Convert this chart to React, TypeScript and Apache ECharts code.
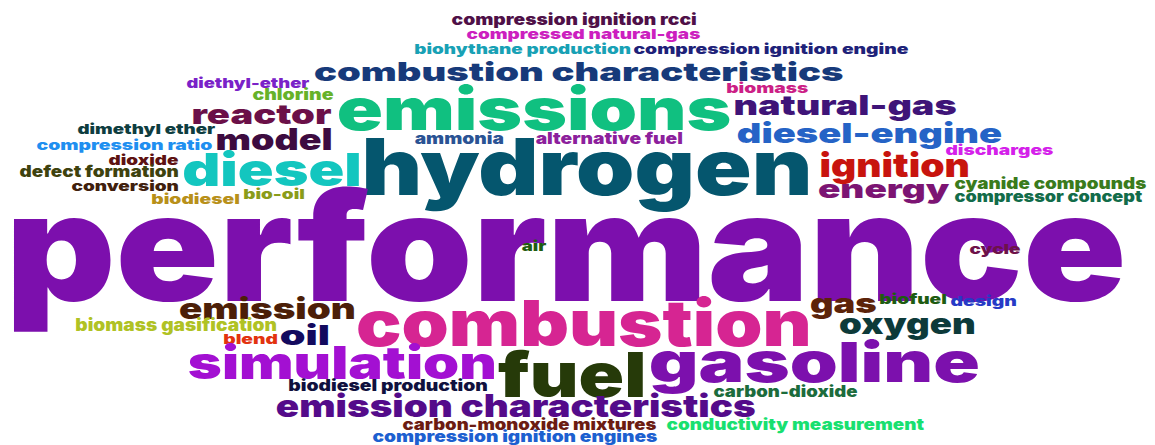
import React, { useEffect, useRef } from "react";
import * as echarts from "echarts";

// Word cloud terms (in drawing order)
const words: string[] = [
  "compression ignition rcci",
  "compressed natural-gas",
  "biohythane production",
  "compression ignition engine",
  "combustion characteristics",
  "diethyl-ether",
  "chlorine",
  "biomass",
  "emissions",
  "natural-gas",
  "reactor",
  "dimethyl ether",
  "model",
  "ammonia",
  "alternative fuel",
  "diesel-engine",
  "compression ratio",
  "hydrogen",
  "diesel",
  "dioxide",
  "defect formation",
  "discharges",
  "ignition",
  "conversion",
  "energy",
  "cyanide compounds",
  "compressor concept",
  "biodiesel",
  "bio-oil",
  "performance",
  "air",
  "cycle",
  "emission",
  "combustion",
  "gas",
  "biofuel",
  "design",
  "oxygen",
  "biomass gasification",
  "oil",
  "blend",
  "simulation",
  "fuel",
  "gasoline",
  "biodiesel production",
  "carbon-dioxide",
  "emission characteristics",
  "carbon-monoxide mixtures",
  "conductivity measurement",
  "compression ignition engines",
];

const wordColors: string[] = [
  "#4f1048", "#cc1fbf", "#18a1b5", "#1e2279", "#173a7a",
  "#7a22c8", "#66b22a", "#cc1f86", "#10c080", "#3f1478",
  "#6b1048", "#0e3d40", "#3d0b40", "#2a5394", "#8c209c",
  "#2563c6", "#1f8ff0", "#05566e", "#13c6bf", "#5e1212",
  "#3e420e", "#d420ea", "#c8140e", "#40200d", "#7c1473",
  "#3a7b1c", "#126c4a", "#b8901a", "#8a9c1a", "#7c0fad",
  "#1f5c10", "#6d124a", "#4c1f08", "#d62592", "#5c2309",
  "#1e5c12", "#263ac6", "#0d3a3a", "#b0c224", "#130a5e",
  "#e2330f", "#a310d2", "#263a09", "#7c10ad", "#10113e",
  "#1c6c3c", "#540b8a", "#6c1c12", "#18e070", "#1c60d0",
];

// Layout of each word in the cloud: [left, right, x-height top, baseline]
const wordBoxes: [number, number, number, number][] = [
  [452, 696, 15, 24],
  [467, 700, 30, 38],
  [415, 630, 45, 53],
  [634, 908, 45, 53],
  [315, 843, 64, 79],
  [187, 309, 79, 87],
  [253, 333, 90, 99],
  [727, 808, 84, 92],
  [339, 730, 92, 126],
  [735, 956, 97, 113],
  [193, 331, 106, 122],
  [78, 215, 125, 133],
  [217, 331, 131, 148],
  [415, 503, 134, 143],
  [536, 682, 134, 143],
  [738, 1001, 125, 141],
  [37, 212, 141, 149],
  [365, 808, 145, 190],
  [184, 359, 157, 183],
  [109, 178, 156, 164],
  [20, 178, 167, 176],
  [946, 1053, 146, 154],
  [821, 968, 156, 175],
  [72, 178, 182, 190],
  [819, 949, 181, 196],
  [955, 1146, 179, 188],
  [955, 1142, 192, 201],
  [152, 239, 195, 203],
  [244, 304, 190, 198],
  [12, 1122, 204, 291],
  [522, 546, 242, 250],
  [970, 1020, 245, 253],
  [180, 354, 300, 317],
  [358, 808, 305, 342],
  [811, 876, 295, 311],
  [880, 946, 295, 303],
  [951, 1016, 297, 305],
  [840, 974, 315, 332],
  [76, 276, 320, 330],
  [281, 328, 327, 343],
  [224, 277, 335, 343],
  [189, 494, 350, 376],
  [498, 643, 357, 393],
  [651, 978, 346, 378],
  [289, 487, 381, 390],
  [714, 857, 387, 396],
  [277, 755, 397, 415],
  [403, 656, 420, 429],
  [667, 924, 420, 429],
  [373, 657, 432, 441],
];

const FONT_FAMILY = "Inter, 'Liberation Sans', sans-serif";
const FONT_WEIGHT = 900;
const XH_FACTOR = 0.95;
const W = 1155;
const H = 445;

export default function App() {
  const ref = useRef<HTMLDivElement>(null);

  useEffect(() => {
    document.body.style.margin = "0";
    const el = ref.current!;
    const chart = echarts.init(el, null, { renderer: "svg" });

    const ctx = document.createElement("canvas").getContext("2d")!;
    const REF = 100;
    ctx.font = `${FONT_WEIGHT} ${REF}px ${FONT_FAMILY}`;
    ctx.textAlign = "center";
    ctx.textBaseline = "middle";
    const mx = ctx.measureText("x");
    const xa = mx.actualBoundingBoxAscent;
    const xd = mx.actualBoundingBoxDescent;
    const xhRatio = (xa + xd) / REF;
    const metrics = words.map((w) => {
      const m = ctx.measureText(w);
      return { L: m.actualBoundingBoxLeft, R: m.actualBoundingBoxRight };
    });

    const data = words.map((w, i) => ({ name: w, value: wordBoxes[i].slice() }));

    chart.setOption({
      animation: false,
      grid: { left: 0, right: 0, top: 0, bottom: 0 },
      xAxis: { type: "value", min: 0, max: W, show: false },
      yAxis: { type: "value", min: 0, max: H, inverse: true, show: false },
      series: [
        {
          type: "custom",
          coordinateSystem: "cartesian2d",
          encode: { x: [0, 1], y: [2, 3] },
          data,
          renderItem: (params: any, api: any) => {
            const i = params.dataIndex;
            const p0 = api.coord([api.value(0), api.value(2)]);
            const p1 = api.coord([api.value(1), api.value(3)]);
            const targetW = p1[0] - p0[0];
            const xh = (p1[1] - p0[1]) * XH_FACTOR;
            const cx = (p0[0] + p1[0]) / 2;
            const cy = p1[1] - xh / 2;
            const fs = xh / xhRatio;
            const k = fs / REF;
            const m = metrics[i];
            const s = targetW / ((m.L + m.R) * k);
            const x = cx - (s * (m.R - m.L) * k) / 2;
            const y = cy - ((xd - xa) * k) / 2;
            return {
              type: "text",
              x,
              y,
              scaleX: s,
              style: {
                text: words[i],
                fill: wordColors[i],
                fontSize: fs,
                fontWeight: FONT_WEIGHT,
                fontFamily: FONT_FAMILY,
                align: "center",
                verticalAlign: "middle",
              },
            };
          },
        },
      ],
    });

    return () => chart.dispose();
  }, []);

  return (
    <div
      ref={ref}
      style={{ position: "fixed", left: 0, top: 0, width: W, height: H, background: "#fff" }}
    />
  );
}
